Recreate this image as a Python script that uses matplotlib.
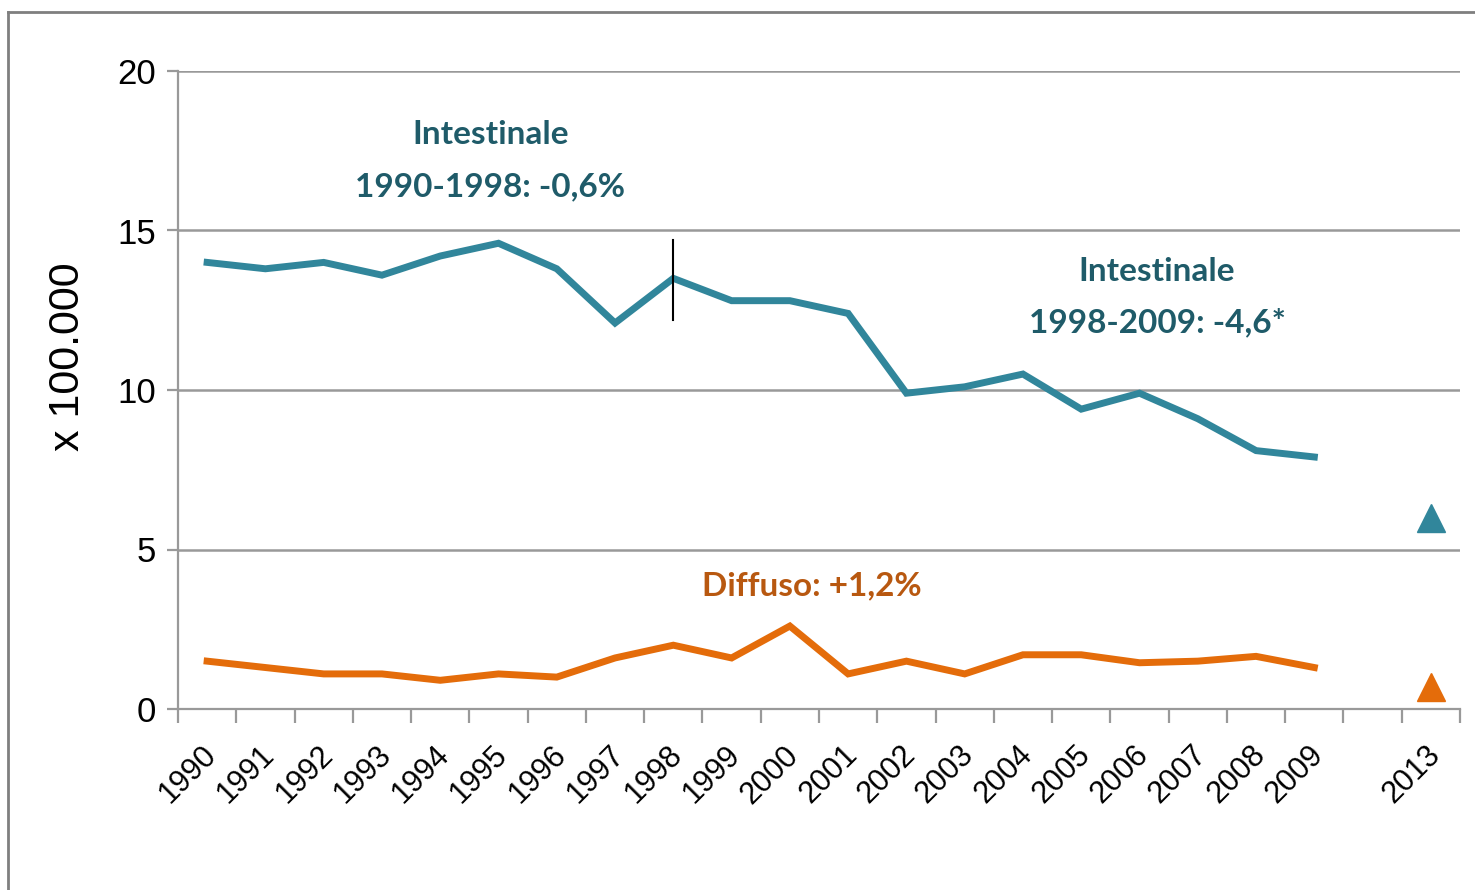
import numpy as np
import matplotlib
matplotlib.use("Agg")
import matplotlib.pyplot as plt
from matplotlib.lines import Line2D

plt.rcParams['font.family'] = ['Liberation Sans', 'DejaVu Sans']

# categories (one empty slot between 2009 and 2013)
years = ['1990', '1991', '1992', '1993', '1994', '1995', '1996', '1997', '1998', '1999',
         '2000', '2001', '2002', '2003', '2004', '2005', '2006', '2007', '2008', '2009',
         '', '2013']

intestinale = [14.0, 13.8, 14.0, 13.6, 14.2, 14.6, 13.8, 12.1, 13.5, 12.8,
               12.8, 12.4, 9.9, 10.1, 10.5, 9.4, 9.9, 9.1, 8.1, 7.9]
diffuso = [1.5, 1.3, 1.1, 1.1, 0.9, 1.1, 1.0, 1.6, 2.0, 1.6,
           2.6, 1.1, 1.5, 1.1, 1.7, 1.7, 1.45, 1.5, 1.65, 1.3]
intestinale_2013 = 6.0
diffuso_2013 = 0.7

# joinpoint marker at 1998
join_year = '1998'
join_range = [12.2, 14.7]

teal = '#31869B'
teal_text = '#1F5B69'
orange = '#E46C0A'
orange_text = '#B85810'
grid_col = '#999999'

fig = plt.figure(figsize=(14.75, 8.9), dpi=100)
ax = fig.add_axes([178 / 1475, 1 - 709 / 890, (1460 - 178) / 1475, (709 - 71) / 890])

x = np.arange(len(years))
n = len(intestinale)

ax.plot(x[:n], intestinale, color=teal, lw=5, solid_joinstyle='miter', zorder=3)
ax.plot(x[:n], diffuso, color=orange, lw=5, solid_joinstyle='miter', zorder=3)
ax.plot([x[-1]], [intestinale_2013], marker='^', ms=20, color=teal, ls='none', zorder=3)
ax.plot([x[-1]], [diffuso_2013], marker='^', ms=20, color=orange, ls='none', zorder=3)

jx = years.index(join_year)
ax.plot([jx, jx], join_range, color='black', lw=1.5, zorder=4)

ax.set_xlim(-0.5, len(years) - 0.5)
ax.set_ylim(0, 20)
ax.set_yticks([0, 5, 10, 15, 20])
ax.yaxis.grid(True, color=grid_col, lw=1.8)
ax.set_axisbelow(True)

ax.set_xticks(x + 0.08)
ax.set_xticklabels(years, rotation=45, ha='right', va='center', rotation_mode='anchor', fontsize=22)
ax.tick_params(axis='x', which='major', length=0, pad=30)
ax.set_xticks(np.arange(-0.5, len(years)), minor=True)
ax.tick_params(axis='x', which='minor', length=10, width=1.6, color=grid_col)
ax.tick_params(axis='y', length=8, width=1.6, color=grid_col, labelsize=25, pad=8)

for s in ['top', 'right']:
    ax.spines[s].set_visible(False)
for s in ['left', 'bottom']:
    ax.spines[s].set_color(grid_col)
    ax.spines[s].set_linewidth(1.6)

ax.set_ylabel('x 100.000', fontsize=31)
ax.yaxis.set_label_coords(-0.07, 0.552)

ax.text(4.86, 18.0, 'Intestinale', color=teal_text, fontsize=24, family='Lato',
        fontweight='bold', ha='center', va='center')
ax.text(4.86, 16.36, '1990-1998: -0,6%', color=teal_text, fontsize=24, family='Lato',
        fontweight='bold', ha='center', va='center')
ax.text(16.3, 13.73, 'Intestinale', color=teal_text, fontsize=24, family='Lato',
        fontweight='bold', ha='center', va='center')
ax.text(16.3, 12.13, '1998-2009: -4,6*', color=teal_text, fontsize=24, family='Lato',
        fontweight='bold', ha='center', va='center')
ax.text(10.38, 3.86, 'Diffuso: +1,2%', color=orange_text, fontsize=24, family='Lato',
        fontweight='bold', ha='center', va='center')

# outer frame
fig.add_artist(Line2D([8 / 1475, 8 / 1475], [0, 1 - 12 / 890], color='#7F7F7F', lw=2))
fig.add_artist(Line2D([8 / 1475, 1], [1 - 12 / 890, 1 - 12 / 890], color='#7F7F7F', lw=2))

fig.savefig('out.png', dpi=100)
